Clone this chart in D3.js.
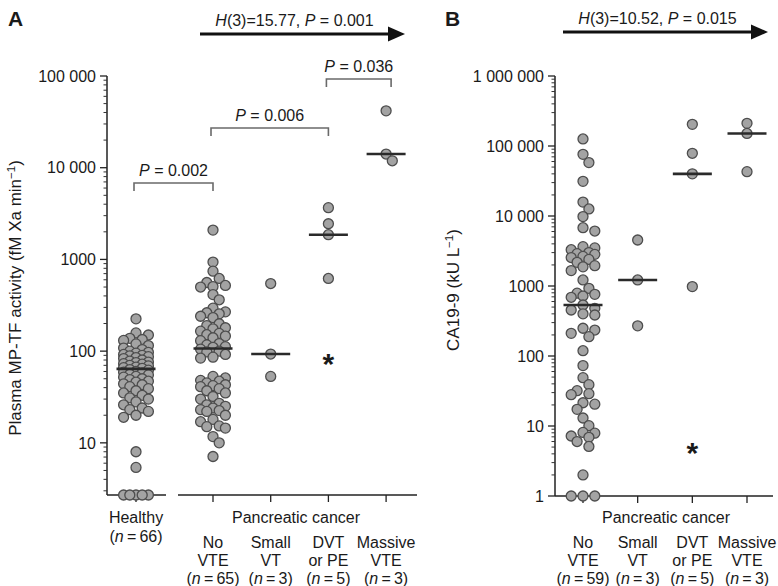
<!DOCTYPE html>
<html><head><meta charset="utf-8">
<script src="https://cdn.jsdelivr.net/npm/d3@7"></script>
<style>
html,body{margin:0;padding:0;background:#fff;}
text{font-family:"Liberation Sans",Arial,Helvetica,sans-serif;fill:#1a1a1a;}
</style></head>
<body><svg id="chart" width="778" height="586"></svg>
<script>
// ---------------- DATA ----------------
// Panel A: Plasma MP-TF activity (fM Xa min^-1)
const aHealthy = [225,158,150,138,134,131,120,115,108,104,100,97,95,92,90,89,87,85,83,80,78,
  76,75,73,72,70,69,67,66,65,63,62,60,59,58,56,55,53,52,50,49,47,46,44,43,41,39,37,35,33,31,
  30,28,26,24,23,22,20,19,8,5.4,2.7,2.7,2.7,2.7,2.7];
const aNoVTE = [2090,935,745,620,560,520,506,500,414,363,294,268,262,255,240,232,199,190,180,175,
  165,156,151,146,140,130,121,117,112,110,105,100,98,92,86,84,
  53,51,48,47,45,43,42,41,39,37,35,32,30,27,26,25,24,23,22.5,22,20,18,17,15.3,15,14.5,11.7,10,7.1];
const aSmallVT = [546,93,53];
const aDVT = [3670,2450,1860,620];
const aMassive = [41700,14100,11900];
const aMedians = [64,107,93,1860,14100];
const aStarValue = 82;          // "*" marker in DVT/PE group
// Panel B: CA19-9 (kU L^-1)
const bNoVTE = [126000,76000,58000,31300,15800,12600,9800,6800,6100,3650,3500,3300,3000,2900,2830,2650,2550,2400,
  2180,1950,1880,1660,1220,927,790,760,720,690,535,480,454,400,385,249,235,211,189,119,73,49,39,32,29,28,
  21.5,20.5,17.3,13,10.1,8.1,7.9,7.2,6.9,6.0,5.1,2.0,1,1,1];
const bSmallVT = [4540,1220,270];
const bDVT = [204000,78700,40000,980];
const bMassive = [211000,151000,43000];
const bMedians = [535,1220,40000,151000];
const bStarValue = 4.9;

const aGroups = ["Healthy","No VTE","Small VT","DVT or PE","Massive VTE"];
const bGroups = ["No VTE","Small VT","DVT or PE","Massive VTE"];
const aN = [66,65,3,5,3];
const bN = [59,3,5,3];
const catLines = {"No VTE":["No","VTE"],"Small VT":["Small","VT"],"DVT or PE":["DVT","or PE"],"Massive VTE":["Massive","VTE"]};
const aTicks = [10,100,1000,10000,100000];
const aTickLabels = ["10","100","1000","10 000","100 000"];
const bTicks = [1,10,100,1000,10000,100000,1000000];
const bTickLabels = ["1","10","100","1000","10 000","100 000","1 000 000"];
const aTest = {h:"15.77", p:"0.001"};
const bTest = {h:"10.52", p:"0.015"};
const aPairs = [{from:0,to:1,p:"0.002"},{from:1,to:3,p:"0.006"},{from:3,to:4,p:"0.036"}];

// ---------------- LAYOUT ----------------
const svg = d3.select("#chart");
const FS = 16;
const ptFill = "#a3a3a3", ptStroke = "#4d4d4d", R = 5;

function swarm(values, yScale, minDist, step, maxK){
  const pts = values.map(v=>({v, y:yScale(v)})).sort((a,b)=>a.y-b.y);
  const placed=[];
  for(const p of pts){
    const cands=[0];
    for(let k=1;k<=maxK;k++){cands.push(k*step,-k*step);}
    let off=null, best=-1, bestO=0;
    for(const o of cands){
      let md=Infinity;
      for(const q of placed){const d=Math.hypot(q.x-o,q.y-p.y); if(d<md) md=d;}
      if(md>=minDist){off=o;break;}
      if(md>best){best=md;bestO=o;}
    }
    p.x = off===null?bestO:off; placed.push(p);
  }
  return pts;
}

function yAxis(g, y, x0, ticks, labels, lo, hi){
  g.append("line").attr("x1",x0).attr("x2",x0).attr("y1",y(hi)).attr("y2",y(lo))
    .attr("stroke","#222").attr("stroke-width",1.5);
  const minors=[];
  for(let d=Math.floor(Math.log10(lo)); d<Math.log10(hi); d++){
    for(let m=2;m<=9;m++){const v=m*Math.pow(10,d); if(v>lo && v<hi) minors.push(v);}
  }
  g.selectAll(null).data(minors).enter().append("line")
    .attr("x1",x0-3.5).attr("x2",x0).attr("y1",d=>y(d)).attr("y2",d=>y(d))
    .attr("stroke","#333").attr("stroke-width",1);
  g.selectAll(null).data(ticks).enter().append("line")
    .attr("x1",x0-7).attr("x2",x0).attr("y1",d=>y(d)).attr("y2",d=>y(d))
    .attr("stroke","#222").attr("stroke-width",1.3);
  g.selectAll(null).data(ticks).enter().append("text")
    .attr("x",x0-11).attr("y",d=>y(d)).attr("dy","0.36em").attr("text-anchor","end")
    .attr("font-size",FS).text((d,i)=>labels[i]);
}

function drawGroup(g, values, cx, y, minDist, step, maxK){
  const pts = swarm(values, y, minDist, step, maxK);
  g.selectAll(null).data(pts).enter().append("circle")
    .attr("cx",d=>cx+d.x).attr("cy",d=>d.y).attr("r",R)
    .attr("fill",ptFill).attr("stroke",ptStroke).attr("stroke-width",1.3);
}
function drawMedian(g, cx, yv){
  g.append("line").attr("x1",cx-19.5).attr("x2",cx+19.5).attr("y1",yv).attr("y2",yv)
    .attr("stroke","#2a2a2a").attr("stroke-width",2.6);
}
function star(g, cx, yv){
  g.append("text").attr("x",cx).attr("y",yv+15).attr("text-anchor","middle")
    .attr("font-size",30).attr("font-weight","bold").text("*");
}
function kwArrow(g, x1, x2, yv, t){
  g.append("line").attr("x1",x1).attr("x2",x2-14).attr("y1",yv).attr("y2",yv)
    .attr("stroke","#111").attr("stroke-width",2.8);
  g.append("path").attr("d",`M${x2-17},${yv-7.5}L${x2},${yv}L${x2-17},${yv+7.5}Z`).attr("fill","#111");
  const tx = g.append("text").attr("x",(x1+x2)/2-8).attr("y",yv-8).attr("text-anchor","middle").attr("font-size",FS);
  tx.append("tspan").attr("font-style","italic").text("H");
  tx.append("tspan").text(`(3)=${t.h}, `);
  tx.append("tspan").attr("font-style","italic").text("P");
  tx.append("tspan").text(` = ${t.p}`);
}
function nLabel(g, x, yv, n){
  const t=g.append("text").attr("x",x).attr("y",yv).attr("text-anchor","middle").attr("font-size",FS);
  t.append("tspan").text("(");
  t.append("tspan").attr("font-style","italic").text("n");
  t.append("tspan").text(`\u2009=\u2009${n})`);
}

// ---------- Panel A ----------
const gA = svg.append("g");
const yA = d3.scaleLog().domain([2.7,100000]).range([495,76]);
const xAc = d=> d==="Healthy"?136:213+ (bGroups.indexOf(d))*57.7;
yAxis(gA, yA, 107, aTicks, aTickLabels, 2.7, 100000);
gA.append("line").attr("x1",107).attr("x2",166).attr("y1",495).attr("y2",495).attr("stroke","#222").attr("stroke-width",1.5);
gA.append("line").attr("x1",178).attr("x2",417).attr("y1",495).attr("y2",495).attr("stroke","#222").attr("stroke-width",1.5);
gA.selectAll(null).data(aGroups).enter().append("line")
  .attr("x1",d=>xAc(d)).attr("x2",d=>xAc(d)).attr("y1",495).attr("y2",502).attr("stroke","#222").attr("stroke-width",1.3);
const aData=[aHealthy,aNoVTE,aSmallVT,aDVT,aMassive];
aData.forEach((vals,i)=>drawGroup(gA, vals, xAc(aGroups[i]), yA, 7.5, 6.2, 2));
aMedians.forEach((m,i)=>drawMedian(gA, xAc(aGroups[i]), yA(m)));
star(gA, xAc("DVT or PE"), yA(aStarValue));
const brY=[183,128,79];
aPairs.forEach((p,i)=>{
  const x1=xAc(aGroups[p.from])-2, x2=xAc(aGroups[p.to])+(i===2?5:0), yy=brY[i];
  gA.append("path").attr("d",`M${x1},${yy+8}V${yy}H${x2}V${yy+8}`).attr("fill","none")
    .attr("stroke","#6a6a6a").attr("stroke-width",1.6);
  const t=gA.append("text").attr("x",(x1+x2)/2).attr("y",yy-7).attr("text-anchor","middle").attr("font-size",FS);
  t.append("tspan").attr("font-style","italic").text("P");
  t.append("tspan").text(` = ${p.p}`);
});
kwArrow(gA, 200, 405, 34, aTest);
gA.append("text").attr("x",8).attr("y",26).attr("font-size",21).attr("font-weight","bold").text("A");
const ylA = gA.append("text").attr("transform","translate(21,298) rotate(-90)").attr("text-anchor","middle").attr("font-size",17);
ylA.append("tspan").text("Plasma MP-TF activity (fM Xa min");
ylA.append("tspan").attr("font-size",11.5).attr("dy",-6).text("\u22121");
ylA.append("tspan").attr("dy",6).text(")");
gA.append("text").attr("x",136).attr("y",523).attr("text-anchor","middle").attr("font-size",FS).text("Healthy");
nLabel(gA,136,542,aN[0]);
gA.append("text").attr("x",296).attr("y",523).attr("text-anchor","middle").attr("font-size",FS).text("Pancreatic cancer");
aGroups.slice(1).forEach((c,i)=>{
  const x=xAc(c);
  gA.append("text").attr("x",x).attr("y",548).attr("text-anchor","middle").attr("font-size",FS).text(catLines[c][0]);
  gA.append("text").attr("x",x).attr("y",566).attr("text-anchor","middle").attr("font-size",FS).text(catLines[c][1]);
  nLabel(gA,x,584,aN[i+1]);
});

// ---------- Panel B ----------
const gB = svg.append("g");
const yB = d3.scaleLog().domain([1,1000000]).range([496,76]);
const xB = d3.scalePoint().domain(bGroups).range([583,747]);
yAxis(gB, yB, 555, bTicks, bTickLabels, 1, 1000000);
gB.append("line").attr("x1",555).attr("x2",773).attr("y1",496).attr("y2",496).attr("stroke","#222").attr("stroke-width",1.5);
gB.selectAll(null).data(bGroups).enter().append("line")
  .attr("x1",d=>xB(d)).attr("x2",d=>xB(d)).attr("y1",496).attr("y2",503).attr("stroke","#222").attr("stroke-width",1.3);
const bData=[bNoVTE,bSmallVT,bDVT,bMassive];
bData.forEach((vals,i)=>drawGroup(gB, vals, xB(bGroups[i]), yB, 8.5, 5.9, 2));
bMedians.forEach((m,i)=>drawMedian(gB, xB(bGroups[i]), yB(m)));
star(gB, xB("DVT or PE"), yB(bStarValue));
kwArrow(gB, 563, 768, 32, bTest);
gB.append("text").attr("x",445).attr("y",26).attr("font-size",21).attr("font-weight","bold").text("B");
const ylB = gB.append("text").attr("transform","translate(459,290) rotate(-90)").attr("text-anchor","middle").attr("font-size",17);
ylB.append("tspan").text("CA19-9 (kU L");
ylB.append("tspan").attr("font-size",11.5).attr("dy",-6).text("\u22121");
ylB.append("tspan").attr("dy",6).text(")");
gB.append("text").attr("x",666).attr("y",523).attr("text-anchor","middle").attr("font-size",FS).text("Pancreatic cancer");
bGroups.forEach((c,i)=>{
  const x=xB(c);
  gB.append("text").attr("x",x).attr("y",548).attr("text-anchor","middle").attr("font-size",FS).text(catLines[c][0]);
  gB.append("text").attr("x",x).attr("y",566).attr("text-anchor","middle").attr("font-size",FS).text(catLines[c][1]);
  nLabel(gB,x,584,bN[i]);
});
</script></body></html>
